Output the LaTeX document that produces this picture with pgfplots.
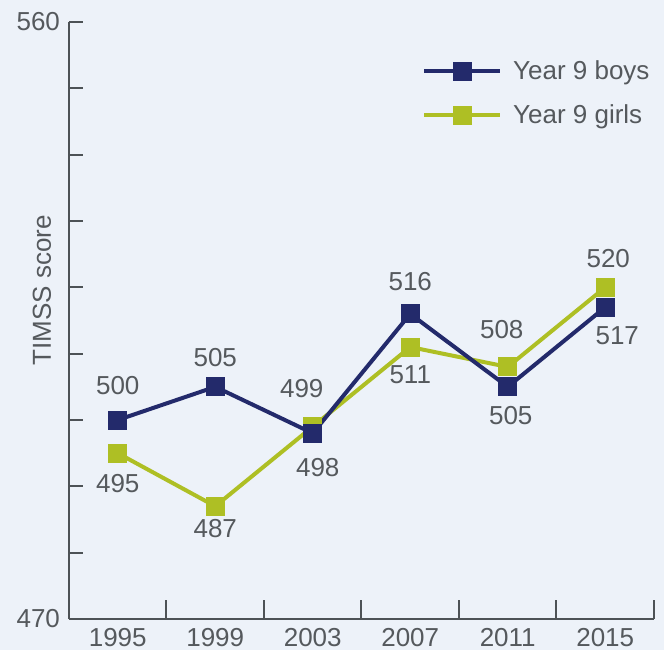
\documentclass[border=0pt]{standalone}
\usepackage{pgfplots}
\pgfplotsset{compat=1.18}
\usepackage{pgfplotstable}
\usepackage{fontspec}
\setmainfont{Liberation Sans}
\definecolor{bg}{HTML}{EDF2F9}
\definecolor{boys}{HTML}{232A6B}
\definecolor{girls}{HTML}{AEBF24}
\definecolor{axc}{HTML}{4D5256}
\definecolor{txt}{HTML}{55595D}
\pgfplotstableread{
x y lab xo yo
0 500 500 0 17
1 505 505 0 14.5
2 498 498 2.5 -17
3 516 516 0 16
4 505 505 1.5 -14.5
5 517 517 6 -14
}\boys
\pgfplotstableread{
x y lab xo yo
0 495 495 0 -15
1 487 487 0 -11
2 499 499 -5.5 19
3 511 511 0 -14
4 508 508 -3 18.5
5 520 520 1.5 14.5
}\girls
\begin{document}
\begin{tikzpicture}[font=\fontsize{13pt}{15pt}\selectfont]
\fill[bg] (-34.5pt,-15.5pt) rectangle (297.5pt,309.5pt);
\begin{axis}[
  scale only axis, width=292.5pt, height=298.5pt,
  xmin=-0.5, xmax=5.5, ymin=470, ymax=560,
  axis x line*=bottom, axis y line*=left,
  axis line style={axc, line width=1pt, -},
  xtick={0,...,5}, xticklabels={1995,1999,2003,2007,2011,2015},
  minor xtick={0.5,1.5,2.5,3.5,4.5,5.5},
  major x tick style={draw=none},
  minor tick length=9.5pt,
  minor x tick style={axc, line width=1pt},
  ytick={470,480,...,560}, yticklabels={470,,,,,,,,,560},
  major tick length=7pt, tick align=inside,
  y tick style={axc, line width=1pt},
  ticklabel style={text=txt},
  xticklabel style={yshift=-1pt},
  yticklabel style={xshift=-1pt},
  legend style={draw=none, fill=none, at={(rel axis cs:0.603,0.943)}, anchor=north west,
     text=txt, row sep=7pt, inner sep=0pt, nodes={inner xsep=5.5pt}},
  legend cell align=left,
  reverse legend,
  legend image code/.code={\draw[mark repeat=2,mark phase=2] plot coordinates {(0pt,0pt) (19pt,0pt) (38pt,0pt)};},
  every axis plot/.append style={line width=2pt, mark=square*, mark size=3.75pt, mark options={solid}},
  nodes near coords={\pgfplotspointmeta},
  point meta=explicit symbolic,
  visualization depends on={\thisrow{xo} \as \xo},
  visualization depends on={\thisrow{yo} \as \yo},
  nodes near coords style={anchor=center, text=txt, xshift=\xo pt, yshift=\yo pt},
  clip=false,
]
\addplot[girls, mark options={fill=girls, draw=girls}] table[x=x, y=y, meta=lab] {\girls};
\addlegendentry{Year 9 girls}
\addplot[boys, mark options={fill=boys, draw=boys}] table[x=x, y=y, meta=lab] {\boys};
\addlegendentry{Year 9 boys}
\node[rotate=90, text=txt, anchor=center] at ([xshift=-13.5pt]rel axis cs:0,0.551) {TIMSS score};
\end{axis}
\pgfresetboundingbox
\useasboundingbox (-34.5pt,-15.5pt) rectangle (297.5pt,309.5pt);
\end{tikzpicture}
\end{document}
